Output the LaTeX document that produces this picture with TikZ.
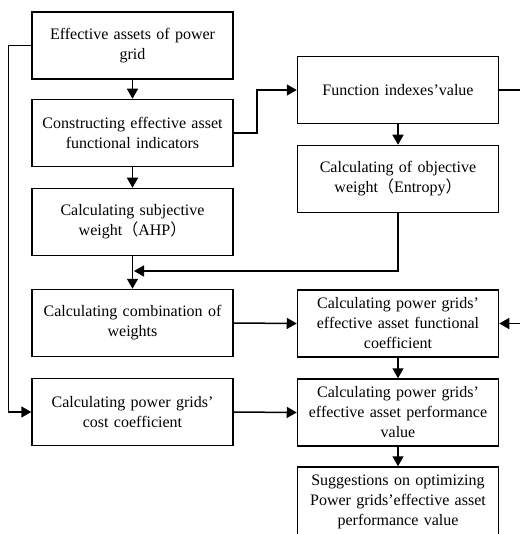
\documentclass[tikz,border=0pt]{standalone}
\usepackage{fontspec}
\setmainfont{Liberation Serif}
\newfontfamily\cjk{Noto Sans CJK SC}
\usetikzlibrary{arrows.meta}
\begin{document}
\begin{tikzpicture}[x=1pt,y=-1pt,
  box/.style={draw, line width=1.5pt, minimum width=201pt, minimum height=67pt,
    text width=197pt, align=center, inner sep=0pt,
    font=\fontsize{16}{20}\selectfont},
  arr/.style={line width=1.5pt, -{Triangle[length=10pt,width=11pt]}}]
\useasboundingbox (0,0) rectangle (519,534);
\node[box] (A) at (132.5,45.5) {Effective assets of power\\grid};
\node[box] (B) at (132.5,133) {Constructing effective asset\\functional indicators};
\node[box] (C) at (132.5,222) {Calculating subjective\\weight{\cjk （}AHP{\cjk ）}};
\node[box] (D) at (132.5,323) {Calculating combination of\\weights};
\node[box] (E) at (132.5,412) {Calculating power grids’\\cost coefficient};
\node[box] (F) at (398,90) {Function indexes’value};
\node[box] (G) at (398,179) {Calculating of objective\\weight{\cjk （}Entropy{\cjk ）}};
\node[box] (H) at (398,323.5) {Calculating power grids’\\effective asset functional\\coefficient};
\node[box] (I) at (398,412.5) {Calculating power grids’\\effective asset performance\\value};
\node[box, minimum height=70pt] (J) at (398,502) {Suggestions on optimizing\\Power grids’effective asset\\performance value};
\coordinate (m) at (134,271);
\draw[arr] (A.south) -- (B.north);
\draw[arr] (B.south) -- (C.north);
\draw[arr] (C.south) -- (D.north);
\draw[arr] (A.west) -- ++(-23,0) |- (E.west);
\draw[arr] (B.east) -- ++(23,0) |- (F.west);
\draw[arr] (F.south) -- (G.north);
\draw[arr] (G.south) |- (m);
\draw[arr] (D.east) -- (H.west);
\draw[arr] (E.east) -- (I.west);
\draw[arr] (H.south) -- (I.north);
\draw[arr] (I.south) -- (J.north);
\draw[arr] (F.east) -- ++(27,0) |- (H.east);
\end{tikzpicture}
\end{document}
